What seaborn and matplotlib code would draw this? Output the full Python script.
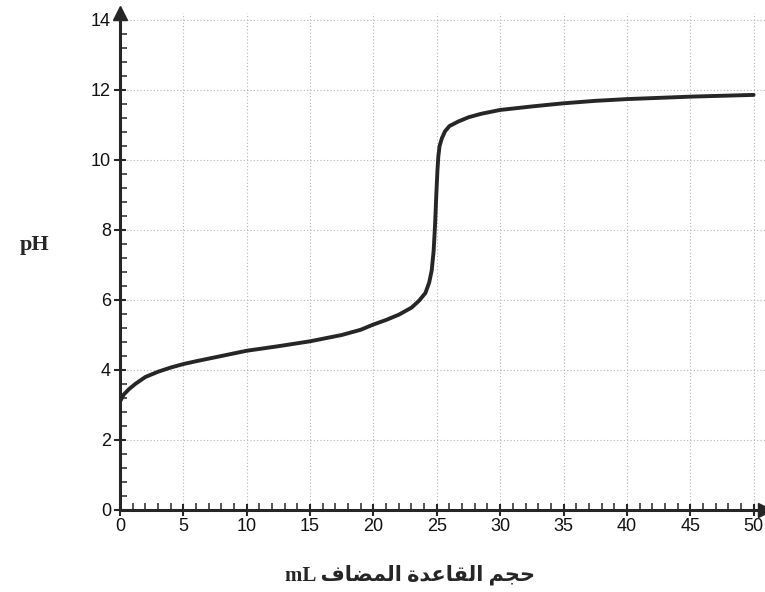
#Titration curve: pH vs volume of base added

import seaborn as sns
import matplotlib.pyplot as plt
from matplotlib.ticker import MultipleLocator

#Data
volume_ml = [0, 0.3, 0.7, 1.2, 2, 3, 4, 5, 6, 8, 10, 12.5, 15, 17.5, 19, 20, 21, 22, 23,
             23.6, 24.1, 24.4, 24.6, 24.75, 24.87, 24.96, 25.05, 25.12, 25.22, 25.4, 25.65,
             26, 26.7, 27.5, 28.5, 30, 32.5, 35, 37.5, 40, 45, 50]
ph_values = [3.1, 3.3, 3.45, 3.6, 3.8, 3.95, 4.07, 4.17, 4.25, 4.4, 4.55, 4.68, 4.82, 5.0, 5.15,
             5.3, 5.43, 5.58, 5.78, 5.98, 6.2, 6.5, 6.85, 7.4, 8.2, 9.0, 9.7, 10.1, 10.4, 10.62,
             10.82, 10.97, 11.1, 11.22, 11.32, 11.43, 11.53, 11.62, 11.69, 11.74, 11.81, 11.86]

x_ticks = [0, 5, 10, 15, 20, 25, 30, 35, 40, 45, 50]
y_ticks = [0, 2, 4, 6, 8, 10, 12, 14]

# x label, Arabic written in visual order with presentation forms
x_label = "mL \uFED1\uFE8E\uFEC0\uFEE4\uFEDF\uFE8D \uFE93\uFEAA\uFECB\uFE8E\uFED8\uFEDF\uFE8D \uFEE2\uFEA0\uFEA3"
y_label = "pH"

sns.set_style("white")
plt.rcParams['font.family'] = ['Liberation Sans', 'DejaVu Sans']

fig = plt.figure(figsize=(7.65, 5.92), dpi=100)
ax = fig.add_axes([120/765, 82/592, 645/765, 497/592])

sns.lineplot(x=volume_ml, y=ph_values, ax=ax, color='#262626', linewidth=2.8)

ax.set_xlim(0, 50.9)
ax.set_ylim(0, 14.2)
ax.set_xticks(x_ticks)
ax.set_yticks(y_ticks)
ax.xaxis.set_minor_locator(MultipleLocator(1))
ax.yaxis.set_minor_locator(MultipleLocator(0.4))

ax.grid(True, which='major', linestyle=(0, (1, 2)), color='#b5b5b5', linewidth=0.8)

for side in ['top', 'right']:
    ax.spines[side].set_visible(False)
for side in ['left', 'bottom']:
    ax.spines[side].set_linewidth(2.2)
    ax.spines[side].set_color('#262626')

ax.tick_params(which='both', bottom=True, left=True, top=False, right=False)
ax.tick_params(which='major', direction='inout', length=9, width=1.5, color='#262626',
               labelsize=13, labelcolor='#111111')
ax.tick_params(which='minor', direction='in', length=5, width=1.1, color='#262626')
ax.tick_params(axis='x', pad=1)
ax.tick_params(axis='y', pad=2)

#axis arrows
ax.plot(0, 1.0, marker='^', markersize=10, color='#262626',
        transform=ax.transAxes, clip_on=False)
ax.plot(1.0, 0, marker='>', markersize=10, color='#262626',
        transform=ax.transAxes, clip_on=False)

ax.set_xlabel("")
ax.set_ylabel("")
fig.text(410/765, 1 - 575/592, x_label, ha='center', va='center', fontsize=15,
         fontweight='bold', family=['Liberation Serif', 'DejaVu Sans'])
fig.text(35/765, 1 - 245/592, y_label, ha='center', va='center', fontsize=16,
         fontweight='bold', family=['Liberation Serif', 'DejaVu Sans'])

fig.savefig("out.png", dpi=100, facecolor='white')
